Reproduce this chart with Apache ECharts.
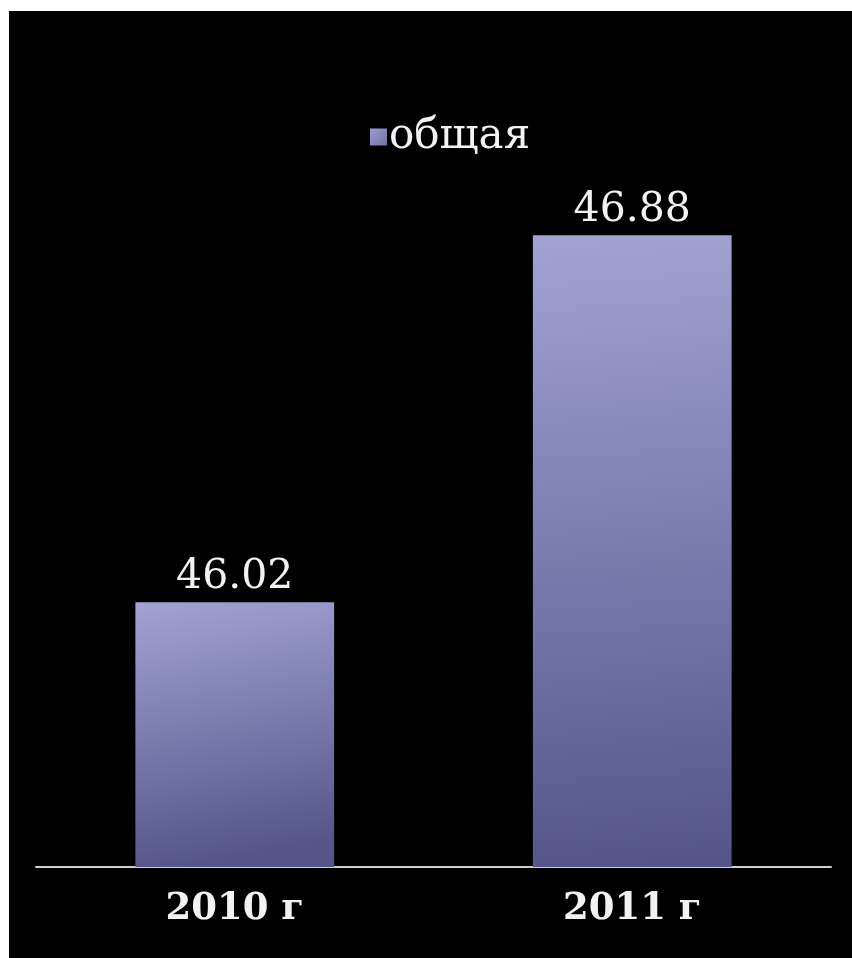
<!DOCTYPE html>
<html>
<head>
<meta charset="utf-8">
<script src="https://cdn.jsdelivr.net/npm/echarts@6/dist/echarts.min.js"></script>
<style>
  html, body { margin: 0; padding: 0; background: #ffffff; }
  #chart { width: 852px; height: 958px; }
</style>
</head>
<body>
<div id="chart"></div>
<script>
// Categories and values
const categories = ['2010 г', '2011 г'];
const seriesName = 'общая';
const values = [46.02, 46.88];

// Value axis range (axis not drawn, bars start from axis min)
const axisMin = 45.4;
const axisMax = 47;

const serif = '"DejaVu Serif", "Liberation Serif", serif';

const barGradient = {
  type: 'linear', x: 0, y: 0, x2: 0.25, y2: 1,
  colorStops: [
    { offset: 0, color: '#a2a3d3' },
    { offset: 1, color: '#55558a' }
  ]
};

const legendGradient = {
  type: 'linear', x: 0, y: 0, x2: 1, y2: 1,
  colorStops: [
    { offset: 0, color: '#9c9dcc' },
    { offset: 1, color: '#7072a6' }
  ]
};

const chart = echarts.init(document.getElementById('chart'), null, { renderer: 'canvas' });

chart.setOption({
  backgroundColor: '#ffffff',
  animation: false,
  graphic: [{
    type: 'rect',
    z: -10,
    shape: { x: 9, y: 11, width: 843, height: 947 },
    style: { fill: '#000000' }
  }],
  legend: {
    data: [{ name: seriesName, itemStyle: { color: legendGradient } }],
    left: 365,
    top: 111,
    icon: 'rect',
    itemWidth: 17,
    itemHeight: 17,
    itemGap: 10,
    textStyle: {
      color: '#f2f2f2',
      fontFamily: serif,
      fontSize: 42,
      lineHeight: 40,
      padding: [0, 0, 0, -3]
    }
  },
  grid: {
    left: 36,
    right: 21,
    top: 184,
    bottom: 91,
    containLabel: false
  },
  xAxis: {
    type: 'category',
    data: categories,
    axisLine: { show: true, lineStyle: { color: '#cfcfcf', width: 2 } },
    axisTick: { show: false },
    axisLabel: {
      color: '#f2f2f2',
      fontFamily: serif,
      fontWeight: 'bold',
      fontSize: 37,
      margin: 24
    }
  },
  yAxis: {
    type: 'value',
    min: axisMin,
    max: axisMax,
    show: false,
    splitLine: { show: false }
  },
  series: [{
    name: seriesName,
    type: 'bar',
    data: values,
    barWidth: '50%',
    itemStyle: { color: barGradient },
    label: {
      show: true,
      position: 'top',
      distance: 4,
      color: '#f2f2f2',
      fontFamily: serif,
      fontSize: 41,
      formatter: p => p.value.toFixed(2)
    }
  }]
});
</script>
</body>
</html>
